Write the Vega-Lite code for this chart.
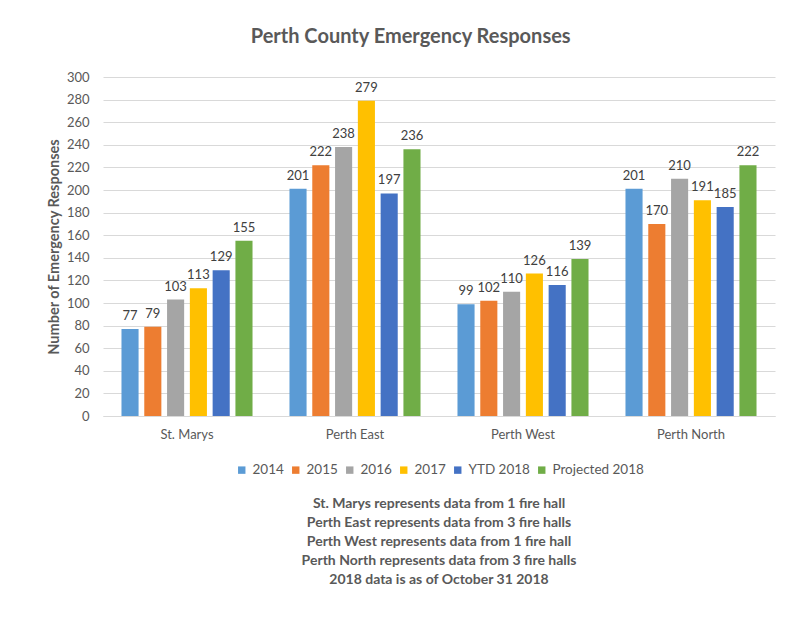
{
  "$schema": "https://vega.github.io/schema/vega-lite/v6.json",
  "autosize": "none",
  "padding": {"left": 103, "top": 77, "right": 19, "bottom": 213},
  "width": 672,
  "height": 339,
  "background": "white",
  "config": {
    "font": "Lato",
    "view": {"stroke": null}
  },
  "title": {
    "text": "Perth County Emergency Responses",
    "fontSize": 20,
    "fontWeight": "bold",
    "color": "#595959",
    "anchor": "middle",
    "frame": "bounds",
    "offset": 24
  },
  "data": {
    "values": [
      {"area": "St. Marys", "series": "2014", "value": 77},
      {"area": "St. Marys", "series": "2015", "value": 79},
      {"area": "St. Marys", "series": "2016", "value": 103},
      {"area": "St. Marys", "series": "2017", "value": 113},
      {"area": "St. Marys", "series": "YTD 2018", "value": 129},
      {"area": "St. Marys", "series": "Projected 2018", "value": 155},
      {"area": "Perth East", "series": "2014", "value": 201},
      {"area": "Perth East", "series": "2015", "value": 222},
      {"area": "Perth East", "series": "2016", "value": 238},
      {"area": "Perth East", "series": "2017", "value": 279},
      {"area": "Perth East", "series": "YTD 2018", "value": 197},
      {"area": "Perth East", "series": "Projected 2018", "value": 236},
      {"area": "Perth West", "series": "2014", "value": 99},
      {"area": "Perth West", "series": "2015", "value": 102},
      {"area": "Perth West", "series": "2016", "value": 110},
      {"area": "Perth West", "series": "2017", "value": 126},
      {"area": "Perth West", "series": "YTD 2018", "value": 116},
      {"area": "Perth West", "series": "Projected 2018", "value": 139},
      {"area": "Perth North", "series": "2014", "value": 201},
      {"area": "Perth North", "series": "2015", "value": 170},
      {"area": "Perth North", "series": "2016", "value": 210},
      {"area": "Perth North", "series": "2017", "value": 191},
      {"area": "Perth North", "series": "YTD 2018", "value": 185},
      {"area": "Perth North", "series": "Projected 2018", "value": 222}
    ]
  },
  "encoding": {
    "x": {
      "field": "area",
      "type": "nominal",
      "sort": ["St. Marys", "Perth East", "Perth West", "Perth North"],
      "scale": {"paddingInner": 0.22, "paddingOuter": 0.11},
      "axis": {
        "title": null,
        "labelAngle": 0,
        "ticks": false,
        "domainColor": "#d9d9d9",
        "labelColor": "#595959",
        "labelFontSize": 13,
        "labelPadding": 12
      }
    },
    "xOffset": {
      "field": "series",
      "type": "nominal",
      "sort": ["2014", "2015", "2016", "2017", "YTD 2018", "Projected 2018"],
      "scale": {"paddingInner": 0.25}
    },
    "y": {
      "field": "value",
      "type": "quantitative",
      "scale": {"domain": [0, 300], "nice": false},
      "axis": {
        "title": "Number of Emergency Responses",
        "titleFontSize": 14.5,
        "titleFontWeight": "bold",
        "titleColor": "#595959",
        "titlePadding": 5,
        "values": [0, 20, 40, 60, 80, 100, 120, 140, 160, 180, 200, 220, 240, 260, 280, 300],
        "domain": false,
        "ticks": false,
        "gridColor": "#d9d9d9",
        "labelColor": "#595959",
        "labelFontSize": 13,
        "labelPadding": 14
      }
    }
  },
  "layer": [
    {
      "mark": {"type": "bar"},
      "encoding": {
        "color": {
          "field": "series",
          "type": "nominal",
          "sort": ["2014", "2015", "2016", "2017", "YTD 2018", "Projected 2018"],
          "scale": {
            "domain": ["2014", "2015", "2016", "2017", "YTD 2018", "Projected 2018"],
            "range": ["#5B9BD5", "#ED7D31", "#A5A5A5", "#FFC000", "#4472C4", "#70AD47"]
          },
          "legend": {
            "orient": "none",
            "legendX": 132,
            "legendY": 386,
            "direction": "horizontal",
            "symbolType": "square",
            "symbolSize": 55,
            "symbolStrokeWidth": 0,
            "labelFontSize": 13.5,
            "labelColor": "#595959",
            "labelOffset": 4,
            "columnPadding": 5,
            "title": [
              "St. Marys represents data from 1 fire hall",
              "Perth East represents data from 3 fire halls",
              "Perth West represents data from 1 fire hall",
              "Perth North represents data from 3 fire halls",
              "2018 data is as of October 31 2018"
            ],
            "titleOrient": "bottom",
            "titleAnchor": "middle",
            "titleAlign": "center",
            "titleFontSize": 14,
            "titleFontWeight": "bold",
            "titleColor": "#595959",
            "titleLineHeight": 19,
            "titlePadding": 20,
            "titleLimit": 600
          }
        }
      }
    },
    {
      "mark": {"type": "text", "dy": -13, "fontSize": 13, "color": "#404040"},
      "encoding": {
        "text": {"field": "value", "type": "quantitative"}
      }
    }
  ]
}
